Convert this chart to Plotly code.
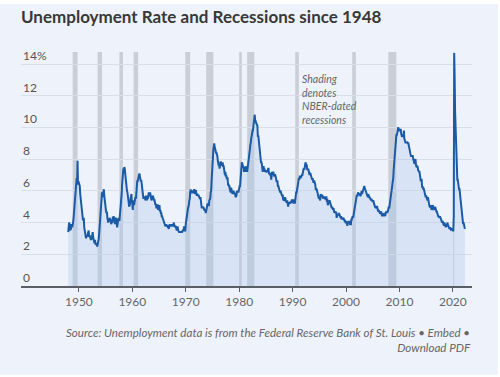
import pandas as pd
import plotly.graph_objects as go

# Monthly civilian unemployment rate (%), Jan 1948 - Apr 2022
unrate_1948_1959 = [
    3.4, 3.8, 4.0, 3.9, 3.5, 3.6, 3.6, 3.9, 3.8, 3.7, 3.8, 4.0,
    4.3, 4.7, 5.0, 5.3, 6.1, 6.2, 6.7, 6.8, 6.6, 7.9, 6.4, 6.6,
    6.5, 6.4, 6.3, 5.8, 5.5, 5.4, 5.0, 4.5, 4.4, 4.2, 4.2, 4.3,
    3.7, 3.4, 3.4, 3.1, 3.0, 3.2, 3.1, 3.1, 3.3, 3.5, 3.5, 3.1,
    3.2, 3.1, 2.9, 2.9, 3.0, 3.0, 3.2, 3.4, 3.1, 3.0, 2.8, 2.7,
    2.9, 2.6, 2.6, 2.7, 2.5, 2.5, 2.6, 2.7, 2.9, 3.1, 3.5, 4.5,
    4.9, 5.2, 5.7, 5.9, 5.9, 5.6, 5.8, 6.0, 6.1, 5.7, 5.3, 5.0,
    4.9, 4.7, 4.6, 4.7, 4.3, 4.2, 4.0, 4.2, 4.1, 4.3, 4.2, 4.2,
    4.0, 3.9, 4.2, 4.0, 4.3, 4.3, 4.4, 4.1, 3.9, 3.9, 4.3, 4.2,
    4.2, 3.9, 3.7, 3.9, 4.1, 4.3, 4.2, 4.1, 4.4, 4.5, 5.1, 5.2,
    5.8, 6.4, 6.7, 7.4, 7.4, 7.3, 7.5, 7.4, 7.1, 6.7, 6.2, 6.2,
    6.0, 5.9, 5.6, 5.2, 5.1, 5.0, 5.1, 5.2, 5.5, 5.7, 5.8, 5.3,
]
unrate_1960_1979 = [
    5.2, 4.8, 5.4, 5.2, 5.1, 5.4, 5.5, 5.6, 5.5, 6.1, 6.1, 6.6,
    6.6, 6.9, 6.9, 7.0, 7.1, 6.9, 7.0, 6.6, 6.7, 6.5, 6.1, 6.0,
    5.8, 5.5, 5.6, 5.6, 5.5, 5.5, 5.4, 5.7, 5.6, 5.4, 5.7, 5.5,
    5.7, 5.9, 5.7, 5.7, 5.9, 5.6, 5.6, 5.4, 5.5, 5.5, 5.7, 5.5,
    5.6, 5.4, 5.4, 5.3, 5.1, 5.2, 4.9, 5.0, 5.1, 5.1, 4.8, 5.0,
    4.9, 5.1, 4.7, 4.8, 4.6, 4.6, 4.4, 4.4, 4.3, 4.2, 4.1, 4.0,
    4.0, 3.8, 3.8, 3.8, 3.9, 3.8, 3.8, 3.8, 3.7, 3.7, 3.6, 3.8,
    3.9, 3.8, 3.8, 3.8, 3.8, 3.9, 3.8, 3.8, 3.8, 4.0, 3.9, 3.8,
    3.7, 3.8, 3.7, 3.5, 3.5, 3.7, 3.7, 3.5, 3.4, 3.4, 3.4, 3.4,
    3.4, 3.4, 3.4, 3.4, 3.4, 3.5, 3.5, 3.5, 3.7, 3.7, 3.5, 3.5,
    3.9, 4.2, 4.4, 4.6, 4.8, 4.9, 5.0, 5.1, 5.4, 5.5, 5.9, 6.1,
    5.9, 5.9, 6.0, 5.9, 5.9, 5.9, 6.0, 6.1, 6.0, 5.8, 6.0, 6.0,
    5.8, 5.7, 5.8, 5.7, 5.7, 5.7, 5.6, 5.6, 5.5, 5.6, 5.3, 5.2,
    4.9, 5.0, 4.9, 5.0, 4.9, 4.9, 4.8, 4.8, 4.8, 4.6, 4.8, 4.9,
    5.1, 5.2, 5.1, 5.1, 5.1, 5.4, 5.5, 5.5, 5.9, 6.0, 6.6, 7.2,
    8.1, 8.1, 8.6, 8.8, 9.0, 8.8, 8.6, 8.4, 8.4, 8.4, 8.3, 8.2,
    7.9, 7.7, 7.6, 7.7, 7.4, 7.6, 7.8, 7.8, 7.6, 7.7, 7.8, 7.8,
    7.5, 7.6, 7.4, 7.2, 7.0, 7.2, 6.9, 7.0, 6.8, 6.8, 6.8, 6.4,
    6.4, 6.3, 6.3, 6.1, 6.0, 5.9, 6.2, 5.9, 6.0, 5.8, 5.9, 6.0,
    5.9, 5.9, 5.8, 5.8, 5.6, 5.7, 5.7, 6.0, 5.9, 6.0, 5.9, 6.0,
]
unrate_1980_1999 = [
    6.3, 6.3, 6.3, 6.9, 7.5, 7.6, 7.8, 7.7, 7.5, 7.5, 7.5, 7.2,
    7.5, 7.4, 7.4, 7.2, 7.5, 7.5, 7.2, 7.4, 7.6, 7.9, 8.3, 8.5,
    8.6, 8.9, 9.0, 9.3, 9.4, 9.6, 9.8, 9.8, 10.1, 10.4, 10.8, 10.8,
    10.4, 10.4, 10.3, 10.2, 10.1, 10.1, 9.4, 9.5, 9.2, 8.8, 8.5, 8.3,
    8.0, 7.8, 7.8, 7.7, 7.4, 7.2, 7.5, 7.5, 7.3, 7.4, 7.2, 7.3,
    7.3, 7.2, 7.2, 7.3, 7.2, 7.4, 7.4, 7.1, 7.1, 7.1, 7.0, 7.0,
    6.7, 7.2, 7.2, 7.1, 7.2, 7.2, 7.0, 6.9, 7.0, 7.0, 6.9, 6.6,
    6.6, 6.6, 6.6, 6.3, 6.3, 6.2, 6.1, 6.0, 5.9, 6.0, 5.8, 5.7,
    5.7, 5.7, 5.7, 5.4, 5.6, 5.4, 5.4, 5.6, 5.4, 5.4, 5.3, 5.3,
    5.4, 5.2, 5.0, 5.2, 5.2, 5.3, 5.2, 5.2, 5.3, 5.3, 5.4, 5.4,
    5.4, 5.3, 5.2, 5.4, 5.4, 5.2, 5.5, 5.7, 5.9, 5.9, 6.2, 6.3,
    6.4, 6.6, 6.8, 6.7, 6.9, 6.9, 6.8, 6.9, 6.9, 7.0, 7.0, 7.3,
    7.3, 7.4, 7.4, 7.4, 7.6, 7.8, 7.7, 7.6, 7.6, 7.3, 7.4, 7.4,
    7.3, 7.1, 7.0, 7.1, 7.1, 7.0, 6.9, 6.8, 6.7, 6.8, 6.6, 6.5,
    6.6, 6.6, 6.5, 6.4, 6.1, 6.1, 6.1, 6.0, 5.9, 5.8, 5.6, 5.5,
    5.6, 5.4, 5.4, 5.8, 5.6, 5.6, 5.7, 5.7, 5.6, 5.5, 5.6, 5.6,
    5.6, 5.5, 5.5, 5.6, 5.6, 5.3, 5.5, 5.1, 5.2, 5.2, 5.4, 5.4,
    5.3, 5.2, 5.2, 5.1, 4.9, 5.0, 4.9, 4.8, 4.9, 4.7, 4.6, 4.7,
    4.6, 4.6, 4.7, 4.3, 4.4, 4.5, 4.5, 4.5, 4.6, 4.5, 4.4, 4.4,
    4.3, 4.4, 4.2, 4.3, 4.2, 4.3, 4.3, 4.2, 4.2, 4.1, 4.1, 4.0,
]
unrate_2000_2022 = [
    4.0, 4.1, 4.0, 3.8, 4.0, 4.0, 4.0, 4.1, 3.9, 3.9, 3.9, 3.9,
    4.2, 4.2, 4.3, 4.4, 4.3, 4.5, 4.6, 4.9, 5.0, 5.3, 5.5, 5.7,
    5.7, 5.7, 5.7, 5.9, 5.8, 5.8, 5.8, 5.7, 5.7, 5.7, 5.9, 6.0,
    5.8, 5.9, 5.9, 6.0, 6.1, 6.3, 6.2, 6.1, 6.1, 6.0, 5.8, 5.7,
    5.7, 5.6, 5.8, 5.6, 5.6, 5.6, 5.5, 5.4, 5.4, 5.5, 5.4, 5.4,
    5.3, 5.4, 5.2, 5.2, 5.1, 5.0, 5.0, 4.9, 5.0, 5.0, 5.0, 4.9,
    4.7, 4.8, 4.7, 4.7, 4.6, 4.6, 4.7, 4.7, 4.5, 4.4, 4.5, 4.4,
    4.6, 4.5, 4.4, 4.5, 4.4, 4.6, 4.7, 4.6, 4.7, 4.7, 4.7, 5.0,
    5.0, 4.9, 5.1, 5.0, 5.4, 5.6, 5.8, 6.1, 6.1, 6.5, 6.8, 7.3,
    7.8, 8.3, 8.7, 9.0, 9.4, 9.5, 9.5, 9.6, 9.8, 10.0, 9.9, 9.9,
    9.8, 9.8, 9.9, 9.9, 9.6, 9.4, 9.4, 9.5, 9.5, 9.4, 9.8, 9.3,
    9.1, 9.0, 9.0, 9.1, 9.0, 9.1, 9.0, 9.0, 9.0, 8.8, 8.6, 8.5,
    8.3, 8.3, 8.2, 8.2, 8.2, 8.2, 8.2, 8.0, 7.8, 7.8, 7.7, 7.9,
    8.0, 7.7, 7.5, 7.6, 7.5, 7.5, 7.3, 7.2, 7.2, 7.2, 6.9, 6.7,
    6.6, 6.7, 6.7, 6.2, 6.3, 6.1, 6.2, 6.1, 5.9, 5.7, 5.8, 5.6,
    5.7, 5.5, 5.4, 5.4, 5.6, 5.3, 5.2, 5.1, 5.0, 5.0, 5.1, 5.0,
    4.8, 4.9, 5.0, 5.1, 4.8, 4.9, 4.8, 4.9, 5.0, 4.9, 4.7, 4.7,
    4.7, 4.6, 4.4, 4.4, 4.4, 4.3, 4.3, 4.4, 4.3, 4.2, 4.2, 4.1,
    4.0, 4.1, 4.0, 4.0, 3.8, 4.0, 3.8, 3.8, 3.7, 3.8, 3.8, 3.9,
    4.0, 3.8, 3.8, 3.7, 3.6, 3.6, 3.7, 3.6, 3.5, 3.6, 3.6, 3.6,
    3.5, 3.5, 4.4, 14.7, 13.2, 11.0, 10.2, 8.4, 7.9, 6.9, 6.7, 6.7,
    6.4, 6.2, 6.1, 6.1, 5.8, 5.9, 5.4, 5.2, 4.8, 4.5, 4.2, 3.9,
    4.0, 3.8, 3.6, 3.6,
]
unrate = unrate_1948_1959 + unrate_1960_1979 + unrate_1980_1999 + unrate_2000_2022
dates = pd.date_range("1948-01-01", periods=len(unrate), freq="MS")

# NBER-dated recessions
rec_start = ["1948-11-01", "1953-07-01", "1957-08-01", "1960-04-01", "1969-12-01",
             "1973-11-01", "1980-01-01", "1981-07-01", "1990-07-01", "2001-03-01",
             "2007-12-01", "2020-02-01"]
rec_end = ["1949-10-01", "1954-05-01", "1958-04-01", "1961-02-01", "1970-11-01",
           "1975-03-01", "1980-07-01", "1982-11-01", "1991-03-01", "2001-11-01",
           "2009-06-01", "2020-04-01"]

x_tick_years = [1950, 1960, 1970, 1980, 1990, 2000, 2010, 2020]
y_tick_vals = [0, 2, 4, 6, 8, 10, 12, 14]
y_tick_text = ["0", "2", "4", "6", "8", "10", "12", "14%"]

BG = "#eef3fb"
L, R, T, B = 21, 28, 51, 91
PW, PH = 500 - L - R, 377 - T - B

fig = go.Figure()

fig.add_trace(go.Scatter(
    x=dates, y=unrate, mode="lines",
    line=dict(color="#1a5aa6", width=2),
    fill="tozeroy", fillcolor="rgba(170,195,235,0.32)",
    hoverinfo="skip", showlegend=False,
))

for s, e in zip(rec_start, rec_end):
    fig.add_shape(type="rect", xref="x", yref="y", x0=s, x1=e, y0=0, y1=14.75,
                  fillcolor="rgba(150,155,165,0.42)", line_width=0, layer="below")

# white page margins around the light panel
fig.add_shape(type="rect", xref="paper", yref="paper", x0=-L / PW, x1=1 + R / PW,
              y0=1 + (T - 4) / PH, y1=1 + T / PH, fillcolor="white", line_width=0)
fig.add_shape(type="rect", xref="paper", yref="paper", x0=1 + (R - 2) / PW, x1=1 + R / PW,
              y0=-B / PH, y1=1 + T / PH, fillcolor="white", line_width=0)
fig.add_shape(type="rect", xref="paper", yref="paper", x0=-L / PW, x1=1 + R / PW,
              y0=-B / PH, y1=-(B - 2) / PH, fillcolor="white", line_width=0)

annotations = []
for v, t in zip(y_tick_vals, y_tick_text):
    annotations.append(dict(
        text=t, xref="paper", yref="y", x=0, y=v, xanchor="left", yanchor="bottom",
        yshift=-1, showarrow=False, font=dict(family="Lato", size=12, color="#555")))

annotations += [
    dict(text="<i>Shading<br>denotes<br>NBER-dated<br>recessions</i>",
         xref="paper", yref="paper", x=(300 - L) / PW, y=(286 - 71) / PH,
         xanchor="left", yanchor="top", align="left", showarrow=False,
         font=dict(family="Lato", size=10.5, color="#666")),
    dict(text="<i>Source: Unemployment data is from the Federal Reserve Bank of St. Louis • Embed •<br>Download PDF</i>",
         xref="paper", yref="paper", x=1.0 + 1 / PW, y=-(324 - 286) / PH,
         xanchor="right", yanchor="top", align="right", showarrow=False,
         font=dict(family="Lato", size=11.6, color="#666")),
]

fig.update_layout(
    width=500, height=377,
    margin=dict(l=L, r=R, t=T, b=B, autoexpand=False),
    paper_bgcolor=BG, plot_bgcolor=BG,
    font=dict(family="Lato, sans-serif", color="#555"),
    title=dict(text="Unemployment Rate and Recessions since 1948",
               x=21 / 500, xanchor="left", xref="container", y=1 - 17 / 377, yanchor="middle",
               yref="container",
               font=dict(family="Lato", size=17, color="#383838", weight=700)),
    xaxis=dict(
        range=["1939-03-01", "2023-08-01"],
        tickvals=[f"{y}-01-01" for y in x_tick_years],
        ticktext=[str(y) for y in x_tick_years],
        showgrid=False, showline=True, linecolor="#5a5f66", linewidth=1.5,
        ticks="outside", ticklen=4, tickcolor="#5a5f66", tickwidth=1,
        tickfont=dict(family="Lato", size=12, color="#666"),
        zeroline=False, automargin=False,
    ),
    yaxis=dict(
        range=[0, 14.82],
        tickvals=y_tick_vals, showticklabels=False,
        showgrid=True, gridcolor="#d9dfe8", gridwidth=1,
        zeroline=False, showline=False, ticks="", automargin=False,
    ),
    annotations=annotations,
)

fig.write_html("out.html", config={"displayModeBar": False},
               post_script="document.body.style.margin='0';")
